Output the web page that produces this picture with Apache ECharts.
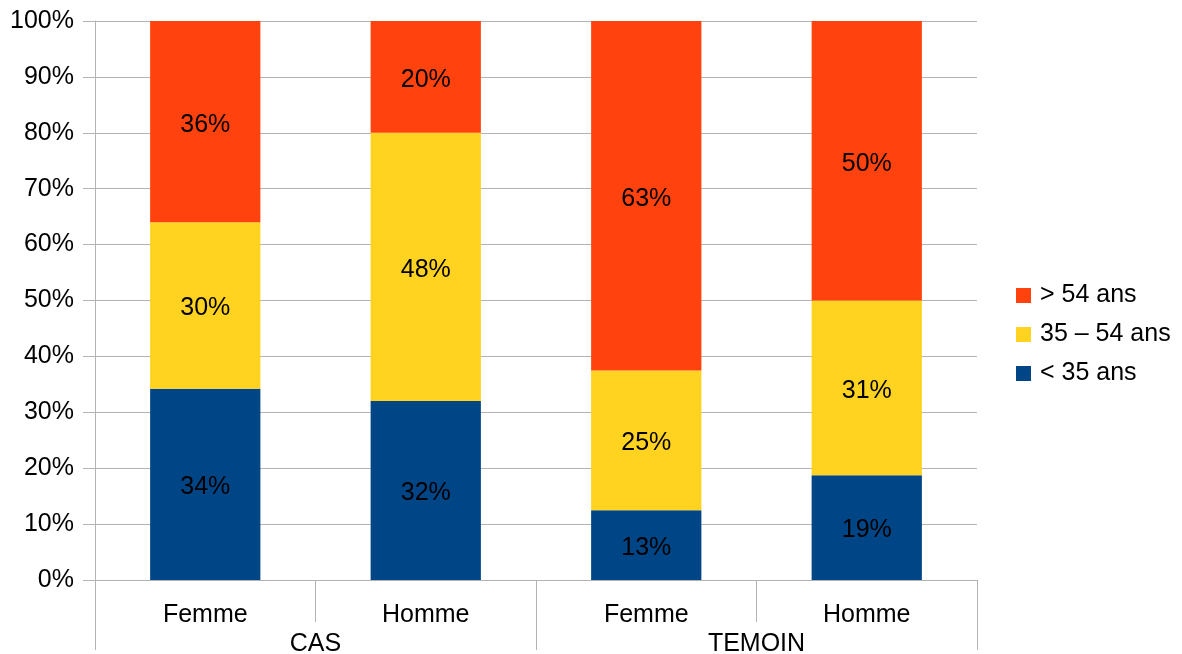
<!DOCTYPE html>
<html>
<head>
<meta charset="utf-8">
<script src="https://cdn.jsdelivr.net/npm/echarts@6/dist/echarts.min.js"></script>
<style>
  html, body { margin: 0; padding: 0; background: #fff; }
  #chart { width: 1182px; height: 654px; }
</style>
</head>
<body>
<div id="chart"></div>
<script>
// sous-catégories et groupes
const sexes = ["Femme", "Homme", "Femme", "Homme"];
const groupes = ["CAS", "TEMOIN"];

// parts en %
const moins35 = [34.2, 32, 12.5, 18.75];
const de35a54 = [29.8, 48, 25, 31.25];
const plus54 = [36.0, 20, 62.5, 50];

const yTicks = [0, 10, 20, 30, 40, 50, 60, 70, 80, 90, 100];

const FONT = "Liberation Sans";
const GRIS = "#b3b3b3";
const TAILLE = 25;

const chart = echarts.init(document.getElementById("chart"));

const labelStyle = {
  show: true,
  position: "inside",
  color: "#000",
  fontFamily: FONT,
  fontSize: TAILLE,
  offset: [0, 3],
  formatter: (p) => Math.round(p.value) + "%",
};

function serie(name, data, color) {
  return {
    name: name,
    type: "bar",
    stack: "total",
    xAxisIndex: 0,
    barWidth: "50%",
    data: data,
    itemStyle: { color: color },
    label: labelStyle,
  };
}

chart.setOption({
  animation: false,
  textStyle: { fontFamily: FONT },
  grid: {
    left: 95,
    right: 205,
    top: 21,
    bottom: 74,
    containLabel: false,
    outerBoundsMode: "none",
  },
  legend: {
    orient: "vertical",
    left: 1011,
    top: 278,
    itemWidth: 15,
    itemHeight: 15,
    itemGap: 14,
    icon: "rect",
    data: ["> 54 ans", "35 – 54 ans", "< 35 ans"],
    textStyle: { fontFamily: FONT, fontSize: TAILLE, color: "#000", padding: [0, 0, 0, 4] },
  },
  xAxis: [
    {
      type: "category",
      data: sexes,
      axisLine: { show: true, lineStyle: { color: GRIS } },
      axisTick: { show: true, alignWithLabel: false, interval: 0, length: 42, lineStyle: { color: GRIS } },
      axisLabel: { color: "#000", fontFamily: FONT, fontSize: TAILLE, margin: 23 },
    },
    {
      type: "category",
      data: groupes,
      position: "bottom",
      axisLine: { show: false },
      axisTick: { show: true, interval: 0, length: 70, lineStyle: { color: GRIS } },
      axisLabel: { color: "#000", fontFamily: FONT, fontSize: TAILLE, margin: 52 },
    },
  ],
  yAxis: {
    type: "value",
    min: yTicks[0],
    max: yTicks[yTicks.length - 1],
    interval: 10,
    axisLine: { show: true, lineStyle: { color: GRIS } },
    axisTick: { show: true, inside: false, length: 12, lineStyle: { color: GRIS } },
    splitLine: { show: true, lineStyle: { color: GRIS } },
    axisLabel: {
      color: "#000",
      fontFamily: FONT,
      fontSize: TAILLE,
      margin: 21,
      formatter: "{value}%",
    },
  },
  series: [
    serie("< 35 ans", moins35, "#004586"),
    serie("35 – 54 ans", de35a54, "#ffd320"),
    serie("> 54 ans", plus54, "#ff420e"),
  ],
});
</script>
</body>
</html>
